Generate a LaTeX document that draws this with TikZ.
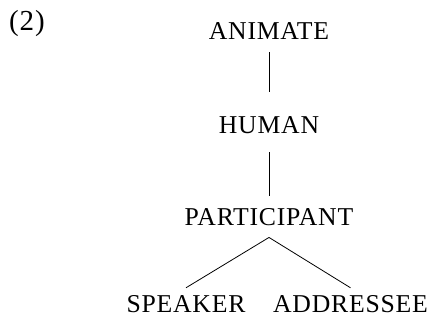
\documentclass[tikz,border=0pt]{standalone}
\usepackage{fontspec}
\setmainfont{Liberation Serif}[LetterSpace=3]
\begin{document}
\begin{tikzpicture}[
    x=1pt, y=-1pt,
    rasgo/.style={inner sep=0pt, anchor=base, font=\fontsize{25.7}{30}\selectfont},
    rama/.style={line width=0.8pt}
  ]
    \useasboundingbox (0,0) rectangle (434,320);
    \node[inner sep=0pt, anchor=base west, font=\fontsize{29}{32}\selectfont] (num) at (9,31) {(2)};

    \node[rasgo] (animate) at (269,40) {ANIMATE};
    \node[rasgo] (human) at (269,134) {HUMAN};
    \node[rasgo] (participant) at (269,226) {PARTICIPANT};
    \node[rasgo] (speaker) at (186,313) {SPEAKER};
    \node[rasgo] (addressee) at (350.5,313) {ADDRESSEE};

    \draw[rama, shorten <=12pt, shorten >=25pt] (animate.south) -- (human.north);
    \draw[rama, shorten <=18pt, shorten >=13pt] (human.south) -- (participant.north);
    \draw[rama] ([yshift=-11pt]participant.south) -- ([yshift=8pt]speaker.north);
    \draw[rama] ([yshift=-11pt]participant.south) -- ([yshift=8pt]addressee.north);
  \end{tikzpicture}
\end{document}
